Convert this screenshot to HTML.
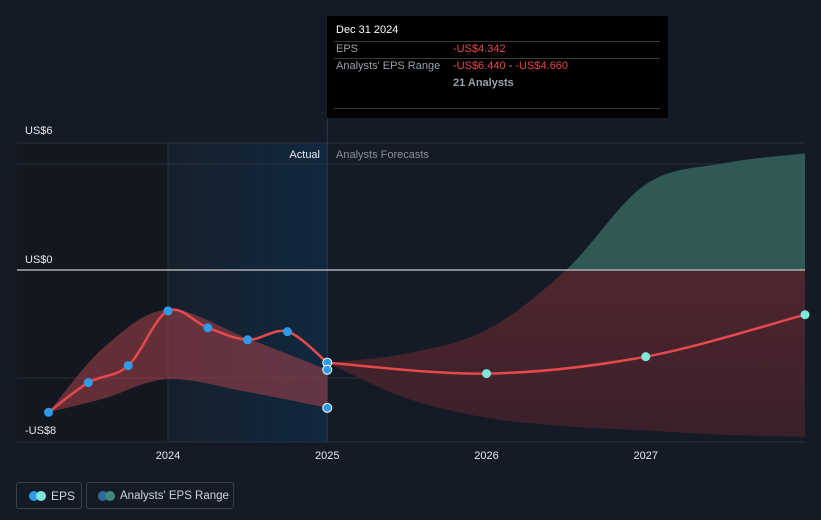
<!DOCTYPE html>
<html><head><meta charset="utf-8"><style>
body{margin:0;background:#151b26;font-family:"Liberation Sans",sans-serif;}
#wrap{position:relative;width:821px;height:520px;overflow:hidden;background:#151b26;}
svg text{font-family:"Liberation Sans",sans-serif;}
.leg{position:absolute;top:482px;height:27px;border:1px solid #3a414c;border-radius:3px;color:#d0d3d8;font-size:12px;line-height:27px;box-sizing:border-box;white-space:nowrap;}
.dot{position:absolute;top:8px;width:10px;height:10px;border-radius:5px;}
</style></head><body>
<div id="wrap">
<svg id="chart" width="821" height="520"></svg>
<div class="leg" style="left:16px;width:66px">
<span class="dot" style="left:12px;background:#2f9be8"></span><span class="dot" style="left:19px;background:#7de8d8"></span><span style="position:absolute;left:34px">EPS</span></div>
<div class="leg" style="left:86px;width:148px">
<span class="dot" style="left:11px;background:#2e6b9a"></span><span class="dot" style="left:18px;background:#3e8a82"></span><span style="position:absolute;left:33px;font-size:11.5px">Analysts' EPS Range</span></div>
<div style="position:absolute;left:327px;top:16px;width:341px;height:102px;background:#000;">
<div style="position:absolute;left:9px;top:8px;color:#fff;font-size:11px;">Dec 31 2024</div>
<div style="position:absolute;left:7px;right:8px;top:25px;border-top:1px solid #3a3a3a"></div>
<div style="position:absolute;left:9px;top:27px;color:#9aa0a8;font-size:11px;">EPS</div>
<div style="position:absolute;left:126px;top:27px;color:#e5484d;font-size:11px;">-US$4.342</div>
<div style="position:absolute;left:7px;right:8px;top:42px;border-top:1px solid #3a3a3a"></div>
<div style="position:absolute;left:9px;top:44px;color:#9aa0a8;font-size:11px;">Analysts' EPS Range</div>
<div style="position:absolute;left:126px;top:44px;color:#e5484d;font-size:11px;">-US$6.440 <span style="color:#9aa0a8">-</span> -US$4.660</div>
<div style="position:absolute;left:126px;top:61px;color:#9aa0a8;font-size:11px;font-weight:bold;">21 Analysts</div>
<div style="position:absolute;left:7px;right:8px;top:92px;border-top:1px solid #3a3a3a"></div>
</div>
</div>
<script>
const xTicks=[2024,2025,2026,2027];
const yTickLabels=["US$6","US$0","-US$8"];
const yTickVals=[6,0,-8];
const actualX=[2023.25,2023.5,2023.75,2024,2024.25,2024.5,2024.75,2025];
const actualEps=[-6.65,-5.26,-4.47,-1.91,-2.7,-3.26,-2.88,-4.33];
const actualRangeX=[2023.25,2023.6,2024,2024.5,2025];
const actualHigh=[-6.65,-3.6,-1.85,-3.2,-4.66];
const actualLow=[-6.65,-6.0,-5.1,-5.7,-6.44];
const fcX=[2025,2026,2027,2028];
const fcEps=[-4.33,-4.84,-4.05,-2.09];
const fcRangeX=[2025,2025.5,2026,2026.5,2027,2027.5,2028];
const fcHigh=[-4.33,-3.9,-2.8,0,4.0,5.0,5.45];
const fcLow=[-4.33,-6.0,-6.9,-7.3,-7.5,-7.7,-7.8];
const lowPoint=-6.44, highPoint=-4.66;

const X=v=>168+(v-2024)*159.25;
const Y=v=>270-v*21.4;
const NS="http://www.w3.org/2000/svg";
const svg=document.getElementById('chart');
function mk(t,a,p){const e=document.createElementNS(NS,t);for(const k in a)e.setAttribute(k,a[k]);(p||svg).appendChild(e);return e;}
function curve(xs,ys,move){let d='';const P=xs.map((x,i)=>[X(x),Y(ys[i])]);
 for(let i=0;i<P.length;i++){if(i==0){d+=(move?'M':'L')+P[0][0]+','+P[0][1];continue;}
  const p0=P[Math.max(i-2,0)],p1=P[i-1],p2=P[i],p3=P[Math.min(i+1,P.length-1)];
  const c1=[p1[0]+(p2[0]-p0[0])/6,p1[1]+(p2[1]-p0[1])/6],c2=[p2[0]-(p3[0]-p1[0])/6,p2[1]-(p3[1]-p1[1])/6];
  d+=`C${c1[0]},${c1[1]} ${c2[0]},${c2[1]} ${p2[0]},${p2[1]}`;}return d;}
function band(xs,hi,lo){return curve(xs,hi,true)+curve(xs.slice().reverse(),lo.slice().reverse(),false)+'Z';}

const defs=mk('defs',{});
defs.innerHTML=`<linearGradient id="hl" x1="0" x2="1"><stop offset="0" stop-color="#16202c"/><stop offset="1" stop-color="#10283f"/></linearGradient>
<linearGradient id="neg" x1="0" x2="0" y1="0" y2="1"><stop offset="0" stop-color="#5e2a32"/><stop offset="1" stop-color="#3a2029"/></linearGradient>
<clipPath id="above"><rect x="0" y="0" width="821" height="${Y(0)}"/></clipPath>
<clipPath id="below"><rect x="0" y="${Y(0)}" width="821" height="300"/></clipPath>`;
mk('rect',{x:17,y:143,width:X(2024)-17,height:299,fill:'#121720',});
mk('rect',{x:X(2024),y:143,width:X(2025)-X(2024),height:299,fill:'url(#hl)',});
[143,164,378,442].forEach(y=>mk('line',{x1:17,x2:805,y1:y,y2:y,stroke:'#2a313c','stroke-width':1,}));
mk('line',{x1:X(2024),x2:X(2024),y1:143,y2:442,stroke:'#26303c',});
mk('line',{x1:X(2025),x2:X(2025),y1:118,y2:442,stroke:'#2c3a4a',});
const fb=band(fcRangeX,fcHigh,fcLow);
mk('path',{d:fb,fill:'#3a6d66','fill-opacity':0.75,'clip-path':'url(#above)',});
mk('path',{d:fb,fill:'url(#neg)','clip-path':'url(#below)',});
mk('path',{d:band(actualRangeX,actualHigh,actualLow),fill:'#a8414a','fill-opacity':0.55,});
mk('line',{x1:17,x2:805,y1:Y(0),y2:Y(0),stroke:'#a9adb3','stroke-width':1.5,});
mk('path',{d:curve(actualX,actualEps,true),fill:'none',stroke:'#e5484d','stroke-width':2.5,});
mk('path',{d:curve(fcX,fcEps,true),fill:'none',stroke:'#e5484d','stroke-width':2.5,});
actualX.forEach((x,i)=>{const c=mk('circle',{cx:X(x),cy:Y(actualEps[i]),r:4.5,fill:'#2f9be8',stroke:i==actualX.length-1?'#fff':'none','stroke-width':1});

});
[highPoint,lowPoint].forEach(v=>{const c=mk('circle',{cx:X(2025),cy:Y(v),r:4.5,fill:'#2f9be8',stroke:'#fff','stroke-width':1});

});
fcX.slice(1).forEach((x,i)=>{const c=mk('circle',{cx:X(x),cy:Y(fcEps[i+1]),r:4.5,fill:'#7de8d8'});

});
const ly=[134,263,434];
yTickLabels.forEach((t,i)=>{const e=mk('text',{x:25,y:ly[i],fill:'#e6e8eb','font-size':11});e.textContent=t;

});
xTicks.forEach(t=>{const e=mk('text',{x:X(t),y:459,fill:'#e6e8eb','font-size':11,'text-anchor':'middle'});e.textContent=t;

});
let e=mk('text',{x:320,y:158,fill:'#e6e8eb','font-size':11,'text-anchor':'end',});e.textContent='Actual';
e=mk('text',{x:336,y:158,fill:'#8a9099','font-size':11,});e.textContent='Analysts Forecasts';
</script>
</body></html>
